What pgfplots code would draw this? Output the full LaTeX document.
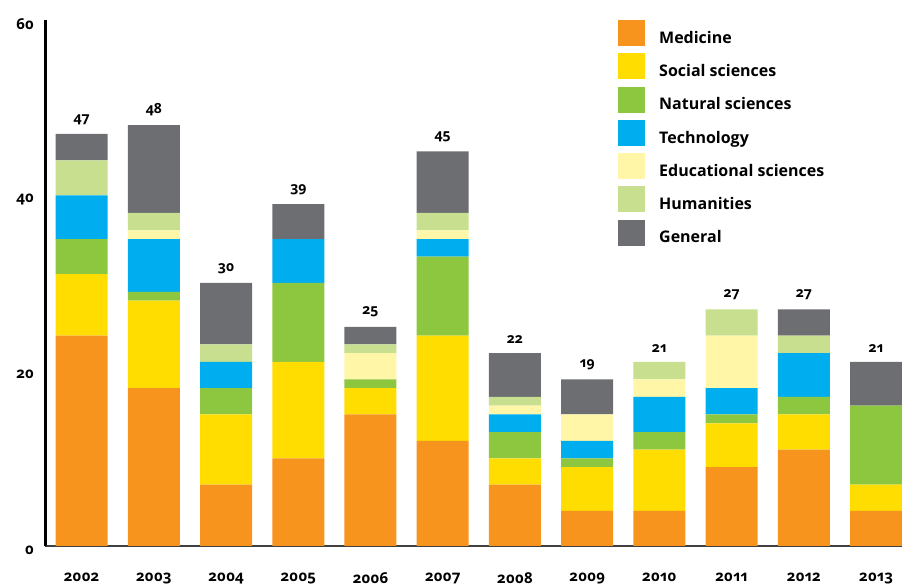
\documentclass[border=0pt]{standalone}
\usepackage{pgfplots}
\pgfplotsset{compat=1.18}
\usepackage{fontspec}
\setmainfont{Open Sans}[Numbers=OldStyle]
\definecolor{cmed}{HTML}{F7941D}
\definecolor{csoc}{HTML}{FFDD00}
\definecolor{cnat}{HTML}{8DC63F}
\definecolor{ctech}{HTML}{00AEEF}
\definecolor{cedu}{HTML}{FFF6A8}
\definecolor{chum}{HTML}{C7DF8E}
\definecolor{cgen}{HTML}{6D6E71}
\pgfplotsset{common/.style={scale only axis, width=856.5pt, height=526pt,
  xmin=-0.5, xmax=11.36, ymin=0, ymax=60}}
\begin{document}
\begin{tikzpicture}
\begin{axis}[
  common,
  ybar stacked, bar width=52pt,
  axis lines*=left,
  x axis line style={draw=black!75, line width=1.5pt},
  y axis line style={draw=black, line width=2.5pt},
  major tick length=0pt,
  xtick={0,...,11},
  xticklabels={2002,2003,2004,2005,2006,2007,2008,2009,2010,2011,2012,2013},
  ytick={0,20,40,60},
  /pgf/number format/assume math mode=true,
  tick label style={font=\bfseries\fontsize{15}{17}\selectfont},
  xticklabel style={yshift=-23pt},
  yticklabel style={xshift=-8pt, yshift=-4pt},
  legend cell align=left,
  legend style={at={(axis description cs:0.6684,1.0)}, anchor=north west,
    draw=none, fill=white, inner sep=0pt, row sep=6.4pt, column sep=12pt,
    font=\bfseries\fontsize{16}{18}\selectfont},
  lg/.style={legend image code/.code={\fill[##1] (0pt,-8pt) rectangle (27pt,18pt);}},
]
\addplot[fill=cmed, draw=none, lg] coordinates {(0,24) (1,18) (2,7) (3,10) (4,15) (5,12) (6,7) (7,4) (8,4) (9,9) (10,11) (11,4)};
\addlegendentry{Medicine}
\addplot[fill=csoc, draw=none, lg] coordinates {(0,7) (1,10) (2,8) (3,11) (4,3) (5,12) (6,3) (7,5) (8,7) (9,5) (10,4) (11,3)};
\addlegendentry{Social sciences}
\addplot[fill=cnat, draw=none, lg] coordinates {(0,4) (1,1) (2,3) (3,9) (4,1) (5,9) (6,3) (7,1) (8,2) (9,1) (10,2) (11,9)};
\addlegendentry{Natural sciences}
\addplot[fill=ctech, draw=none, lg] coordinates {(0,5) (1,6) (2,3) (3,5) (4,0) (5,2) (6,2) (7,2) (8,4) (9,3) (10,5) (11,0)};
\addlegendentry{Technology}
\addplot[fill=cedu, draw=none, lg] coordinates {(0,0) (1,1) (2,0) (3,0) (4,3) (5,1) (6,1) (7,3) (8,2) (9,6) (10,0) (11,0)};
\addlegendentry{Educational sciences}
\addplot[fill=chum, draw=none, lg] coordinates {(0,4) (1,2) (2,2) (3,0) (4,1) (5,2) (6,1) (7,0) (8,2) (9,3) (10,2) (11,0)};
\addlegendentry{Humanities}
\addplot[fill=cgen, draw=none, lg] coordinates {(0,3) (1,10) (2,7) (3,4) (4,2) (5,7) (6,5) (7,4) (8,0) (9,0) (10,3) (11,5)};
\addlegendentry{General}
\coordinate (o) at (rel axis cs:0,0);
\end{axis}
\begin{axis}[common, hide axis]
\addplot[only marks, mark=*, mark size=0pt, mark options={draw=none, fill=none},
  nodes near coords, point meta=explicit symbolic,
  nodes near coords style={font=\bfseries\fontsize{14}{16}\selectfont, text=black, anchor=south, yshift=6pt}]
  coordinates {(0,47)[47] (1,48)[48] (2,30)[30] (3,39)[39] (4,25)[25] (5,45)[45] (6,22)[22] (7,19)[19] (8,21)[21] (9,27)[27] (10,27)[27] (11,21)[21]};
\end{axis}
\pgfresetboundingbox
\path (o) ++(-45.5pt,-40pt) rectangle ++(902pt,586pt);
\end{tikzpicture}
\end{document}
